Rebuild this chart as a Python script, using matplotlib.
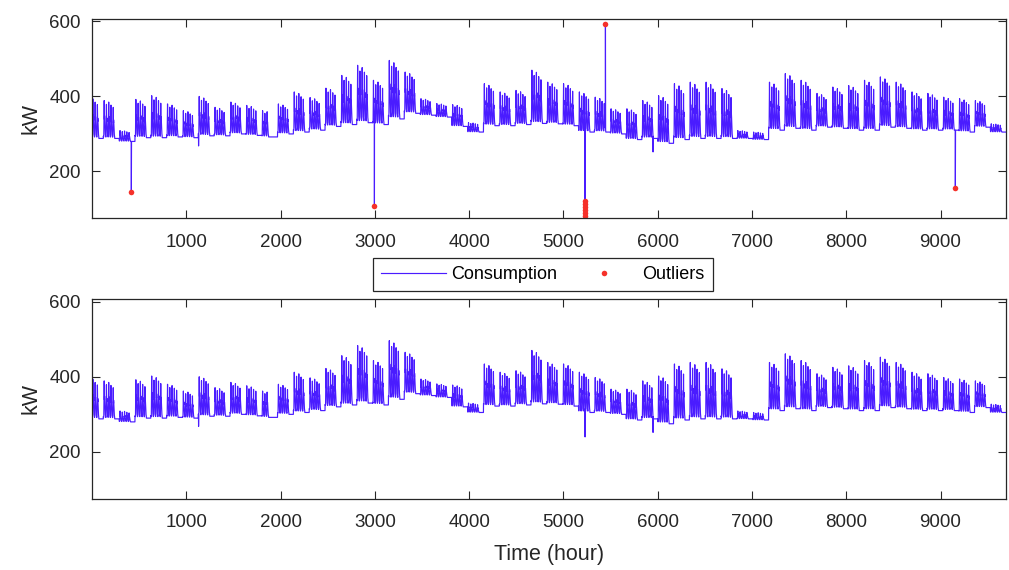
import numpy as np
import matplotlib
matplotlib.use("Agg")
import matplotlib.pyplot as plt

plt.rcParams['font.family'] = ['Liberation Sans', 'DejaVu Sans']

# 每周读数（周一起算，第0周从 -48 h 开始）：基线 / 工作日峰值 / 工作日天数
week_base = [288, 288, 280, 290, 290, 292, 290, 295, 295, 300,
             296, 292, 300, 305, 310, 320, 325, 330, 325, 340,
             355, 350, 345, 320, 305, 322, 322, 325, 328, 327,
             322, 305, 305, 300, 285, 288, 275, 285, 288, 288,
             288, 288, 285, 310, 315, 310, 318, 315, 310, 310,
             318, 315, 310, 310, 310, 305, 318, 305]
week_peak = [398, 389, 309, 392, 402, 380, 362, 400, 371, 385,
             376, 362, 380, 412, 397, 422, 456, 483, 443, 496,
             465, 394, 381, 378, 330, 434, 412, 416, 470, 438,
             434, 412, 398, 367, 367, 389, 402, 434, 438, 438,
             421, 309, 305, 438, 461, 443, 408, 425, 429, 443,
             452, 438, 412, 408, 398, 394, 389, 327]
week_days = [5, 5, 5, 5, 5, 5, 5, 5, 5, 5,
             5, 3, 5, 5, 5, 5, 5, 5, 5, 5,
             5, 5, 5, 5, 5, 5, 5, 5, 5, 5,
             5, 5, 5, 5, 5, 5, 5, 5, 5, 5,
             5, 5, 5, 5, 5, 5, 5, 5, 5, 5,
             5, 5, 5, 5, 5, 5, 5, 5]
day_scale = [1.0, 0.9, 0.96, 0.88, 0.82]
day_profile = [0.06, 0.05, 0.04, 0.04, 0.05, 0.1, 0.3, 0.5, 0.62, 1.0, 0.64, 0.56,
               0.5, 0.6, 0.56, 0.5, 0.42, 0.32, 0.25, 0.18, 0.14, 0.11, 0.09, 0.07]

n_hours = 9696
first_monday = -48

# 单点下探（两幅图都有）
dip_hours = [1130, 5950, 5229]
dip_vals = [268, 252, 240]

# 异常点（仅上图）
outlier_hours = [417, 2995, 5226, 5227, 5228, 5229, 5230, 5231, 5445, 9156]
outlier_vals = [144, 109, 122, 112, 104, 96, 88, 82, 594, 157]

# 由周读数拼成逐时序列
clean = np.zeros(n_hours)
for h in range(n_hours):
    rel = h - first_monday
    w = rel // 168
    d = (rel % 168) // 24
    hr = rel % 24
    b = week_base[w]
    if d < week_days[w]:
        clean[h] = b + (week_peak[w] - b) * day_scale[d] * day_profile[hr]
    else:
        clean[h] = b
for h, v in zip(dip_hours, dip_vals):
    clean[h] = v
t = np.arange(1, n_hours + 1)

raw = clean.copy()
for h, v in zip(outlier_hours, outlier_vals):
    raw[h] = v

line_c = '#4a1cff'
red_c = '#f5312a'
dark = '#262626'

fig = plt.figure(figsize=(10.09, 5.70), dpi=100)
ax1 = fig.add_axes([0.0912, 0.617, 0.906, 0.350])
ax2 = fig.add_axes([0.0912, 0.1246, 0.906, 0.351])

l1, = ax1.plot(t, raw, color=line_c, lw=0.85, label='Consumption')
p1, = ax1.plot(np.array(outlier_hours) + 1, outlier_vals, 'o', color=red_c,
               ms=4, mec='none', label='Outliers')
ax2.plot(t, clean, color=line_c, lw=0.85)

for ax in (ax1, ax2):
    ax.set_xlim(1, n_hours)
    ax.set_ylim(75, 607)
    ax.set_xticks(range(1000, 10000, 1000))
    ax.set_yticks([200, 400, 600])
    ax.tick_params(direction='in', top=True, right=True, length=6, pad=8,
                   labelsize=13.5, color=dark, labelcolor=dark)
    ax.tick_params(axis='x', pad=11)
    for s in ax.spines.values():
        s.set_color(dark)
        s.set_linewidth(0.9)
    ax.set_ylabel('kW', fontsize=15.5, color=dark, labelpad=6)
ax2.set_xlabel('Time (hour)', fontsize=15.5, color=dark, labelpad=9)

leg = fig.legend(handles=[l1, p1], loc='center', bbox_to_anchor=(0.538, 0.518),
                 ncol=2, fontsize=13, frameon=True, fancybox=False,
                 edgecolor=dark, framealpha=1, handlelength=3.6,
                 handletextpad=0.3, columnspacing=0.8, borderpad=0.45,
                 borderaxespad=0)
leg.get_frame().set_linewidth(0.9)

fig.savefig('out.png', dpi=100)
